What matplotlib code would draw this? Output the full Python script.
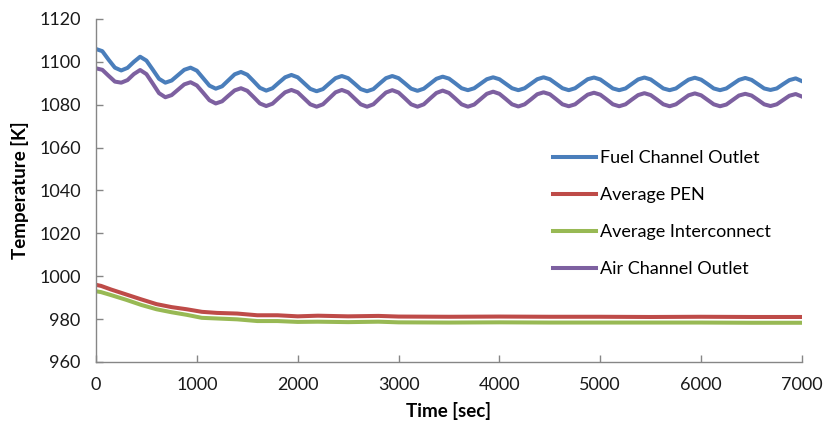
import numpy as np
import matplotlib
matplotlib.use("Agg")
import matplotlib.pyplot as plt

# ------------------------------------------------------------------
# data
# ------------------------------------------------------------------
# oscillating outlets, sampled every 62.5 s (0 ... 7000)
t_fast = np.arange(0, 7000.1, 62.5)

fuel_outlet = [
    1106.0, 1105.0, 1101.0, 1097.3, 1096.0, 1097.2, 1100.0, 1102.4,
    1100.6, 1096.4, 1092.1, 1090.3, 1091.3, 1093.8, 1096.3, 1097.3,
    1095.9, 1092.4, 1088.9, 1087.5, 1088.6, 1091.4, 1094.2, 1095.3,
    1094.0, 1091.0, 1087.9, 1086.6, 1087.7, 1090.3, 1092.8, 1093.9,
    1092.8, 1090.1, 1087.4, 1086.3, 1087.3, 1089.9, 1092.4, 1093.4,
    1092.4, 1089.9, 1087.3, 1086.3, 1087.3, 1089.9, 1092.4, 1093.4,
    1092.4, 1090.0, 1087.5, 1086.5, 1087.5, 1089.8, 1092.1, 1093.1,
    1092.2, 1090.0, 1087.7, 1086.8, 1087.7, 1089.8, 1091.9, 1092.8,
    1091.9, 1089.8, 1087.7, 1086.8, 1087.7, 1089.8, 1091.9, 1092.8,
    1091.9, 1089.8, 1087.7, 1086.8, 1087.7, 1089.8, 1091.9, 1092.7,
    1091.8, 1089.7, 1087.6, 1086.8, 1087.6, 1089.7, 1091.8, 1092.7,
    1091.8, 1089.7, 1087.6, 1086.8, 1087.6, 1089.7, 1091.7, 1092.6,
    1091.7, 1089.7, 1087.6, 1086.8, 1087.6, 1089.6, 1091.6, 1092.5,
    1091.6, 1089.6, 1087.6, 1086.9, 1087.6, 1089.6, 1091.5, 1092.3,
    1091.0,
]

air_outlet = [
    1097.0, 1096.3, 1093.5, 1090.8, 1090.3, 1091.5, 1094.3, 1096.2,
    1094.3, 1089.9, 1085.4, 1083.5, 1084.5, 1087.0, 1089.5, 1090.5,
    1089.0, 1085.6, 1082.1, 1080.6, 1081.6, 1084.2, 1086.7, 1087.7,
    1086.5, 1083.6, 1080.6, 1079.4, 1080.5, 1083.2, 1085.8, 1086.9,
    1085.8, 1083.0, 1080.2, 1079.1, 1080.2, 1083.0, 1085.8, 1086.9,
    1085.8, 1083.0, 1080.2, 1079.1, 1080.2, 1083.0, 1085.7, 1086.8,
    1085.7, 1083.0, 1080.2, 1079.1, 1080.2, 1082.9, 1085.5, 1086.6,
    1085.5, 1082.9, 1080.2, 1079.1, 1080.1, 1082.6, 1085.1, 1086.1,
    1085.1, 1082.7, 1080.2, 1079.2, 1080.2, 1082.5, 1084.9, 1085.8,
    1084.9, 1082.6, 1080.2, 1079.3, 1080.2, 1082.5, 1084.7, 1085.6,
    1084.7, 1082.5, 1080.2, 1079.3, 1080.2, 1082.4, 1084.5, 1085.4,
    1084.5, 1082.4, 1080.2, 1079.3, 1080.2, 1082.3, 1084.4, 1085.3,
    1084.4, 1082.3, 1080.2, 1079.3, 1080.1, 1082.2, 1084.3, 1085.1,
    1084.3, 1082.3, 1080.2, 1079.4, 1080.2, 1082.2, 1084.2, 1085.0,
    1083.8,
]

# slow cell temperatures
t_slow = [0, 50, 150, 300, 450, 600, 750, 900, 1050, 1200, 1400, 1600,
          1800, 2000, 2200, 2500, 2800, 3000, 3500, 4000, 4500, 5000,
          5500, 6000, 6500, 7000]

avg_pen = [996.0, 995.5, 993.8, 991.5, 989.2, 987.0, 985.6, 984.6, 983.4,
           982.9, 982.6, 981.8, 981.8, 981.3, 981.6, 981.3, 981.5, 981.2,
           981.1, 981.2, 981.1, 981.1, 981.0, 981.1, 981.0, 981.0]

avg_interconnect = [993.0, 992.6, 991.2, 989.0, 986.6, 984.6, 983.2, 982.0,
                    980.6, 980.3, 979.9, 979.1, 979.1, 978.7, 978.8, 978.6,
                    978.8, 978.5, 978.4, 978.5, 978.4, 978.4, 978.4, 978.4,
                    978.3, 978.3]

x_ticks = [0, 1000, 2000, 3000, 4000, 5000, 6000, 7000]
y_ticks = [960, 980, 1000, 1020, 1040, 1060, 1080, 1100, 1120]

# ------------------------------------------------------------------
# plot
# ------------------------------------------------------------------
plt.rcParams['font.family'] = ['Lato', 'DejaVu Sans']

fig = plt.figure(figsize=(8.23, 4.30), dpi=100)
ax = fig.add_axes([96/823, 1 - 362/430, (802 - 96)/823, (362 - 19)/430])

lw = 2.9
ax.plot(t_fast, fuel_outlet, color="#4A7EBB", lw=lw, label="Fuel Channel Outlet")
ax.plot(t_slow, avg_pen, color="#BE4B48", lw=lw, label="Average PEN")
ax.plot(t_slow, avg_interconnect, color="#98B954", lw=lw, label="Average Interconnect")
ax.plot(t_fast, air_outlet, color="#7D60A0", lw=lw, label="Air Channel Outlet")

ax.set_xlim(0, 7000)
ax.set_ylim(960, 1120)
ax.set_xticks(x_ticks)
ax.set_yticks(y_ticks)

for side in ["top", "right"]:
    ax.spines[side].set_visible(False)
for side in ["left", "bottom"]:
    ax.spines[side].set_color("#868686")
    ax.spines[side].set_linewidth(1.0)

ax.tick_params(direction="in", length=5, width=1.0, color="#868686",
               labelsize=13, labelcolor="#1a1a1a", pad=11)

ax.set_xlabel("Time [sec]", fontsize=13.5, fontweight="bold", labelpad=6)
ax.set_ylabel("Temperature [K]", fontsize=13.5, fontweight="bold", labelpad=7)

ax.legend(loc="upper left", bbox_to_anchor=(553/823, 1 - 150/430),
          bbox_transform=fig.transFigure, frameon=False, fontsize=13,
          handlelength=2.4, handletextpad=0.2, labelspacing=1.17,
          borderpad=0, borderaxespad=0)

fig.savefig("out.png", dpi=100)
